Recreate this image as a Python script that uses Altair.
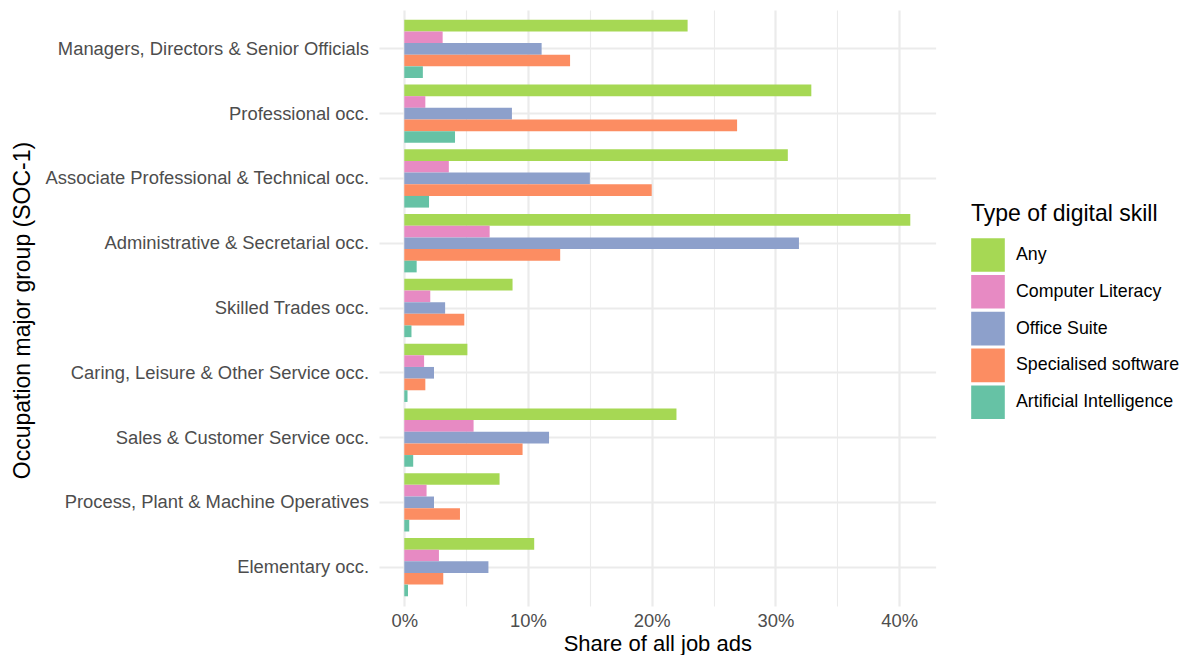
import altair as alt
import pandas as pd

occupations = [
    "Managers, Directors & Senior Officials",
    "Professional occ.",
    "Associate Professional & Technical occ.",
    "Administrative & Secretarial occ.",
    "Skilled Trades occ.",
    "Caring, Leisure & Other Service occ.",
    "Sales & Customer Service occ.",
    "Process, Plant & Machine Operatives",
    "Elementary occ.",
]
skills = ["Any", "Computer Literacy", "Office Suite", "Specialised software", "Artificial Intelligence"]
colors = ["#A6D854", "#E78AC3", "#8DA0CB", "#FC8D62", "#66C2A5"]

# share of all job ads, in percent
any_skill = [22.9, 32.9, 31.0, 40.9, 8.75, 5.1, 22.0, 7.7, 10.5]
computer_literacy = [3.1, 1.7, 3.6, 6.9, 2.1, 1.6, 5.6, 1.8, 2.8]
office_suite = [11.1, 8.7, 15.0, 31.9, 3.3, 2.4, 11.7, 2.4, 6.8]
specialised_software = [13.4, 26.9, 20.0, 12.6, 4.85, 1.7, 9.56, 4.5, 3.15]
artificial_intelligence = [1.5, 4.1, 2.0, 1.0, 0.58, 0.26, 0.72, 0.4, 0.3]

tick_values = [0, 5, 10, 15, 20, 25, 30, 35, 40]

series = [any_skill, computer_literacy, office_suite, specialised_software, artificial_intelligence]
rows = []
for name, vals in zip(skills, series):
    for occ, v in zip(occupations, vals):
        rows.append({"occupation": occ, "skill": name, "share": v})
df = pd.DataFrame(rows)

vmax = float(df["share"].max())
x_domain = [-0.05 * vmax, 1.05 * vmax]

FONT = "Liberation Sans"
W = 556.6
H = 596

chart = (
    alt.Chart(df)
    .mark_bar()
    .encode(
        x=alt.X(
            "share:Q",
            scale=alt.Scale(domain=x_domain, nice=False, zero=False),
            title="Share of all job ads",
            axis=alt.Axis(
                values=tick_values,
                labelExpr="datum.value % 10 === 0 ? datum.value + '%' : ''",
                grid=True,
                gridColor="#EBEBEB",
                gridWidth={"condition": {"test": "datum.value % 10 === 0", "value": 2.2}, "value": 1.1},
                ticks=False,
                domain=False,
                labelFont=FONT,
                labelFontSize=18.4,
                labelColor="#4D4D4D",
                labelPadding=6,
                labelFlush=False,
                titleFont=FONT,
                titleFontSize=22,
                titleFontWeight="normal",
                titleColor="#000000",
                titleY=44.5,
                titleBaseline="alphabetic",
            ),
        ),
        x2=alt.datum(0),
        y=alt.Y(
            "occupation:N",
            sort=occupations,
            scale=alt.Scale(paddingInner=0.1, paddingOuter=0.15),
            title="Occupation major group (SOC-1)",
            axis=alt.Axis(
                bandPosition=0.5,
                grid=True,
                gridColor="#EBEBEB",
                gridWidth=2.2,
                ticks=False,
                domain=False,
                labelFont=FONT,
                labelFontSize=18.4,
                labelColor="#4D4D4D",
                labelPadding=10.5,
                labelLimit=500,
                titleFont=FONT,
                titleFontSize=23,
                titleFontWeight="normal",
                titleColor="#000000",
                titleAngle=270,
                titleAlign="center",
                titleBaseline="alphabetic",
                titleX=-349,
                titleY=300,
            ),
        ),
        yOffset=alt.YOffset(
            "skill:N",
            sort=skills,
            scale=alt.Scale(paddingInner=0, paddingOuter=0),
        ),
        color=alt.Color(
            "skill:N",
            sort=skills,
            scale=alt.Scale(domain=skills, range=colors),
            title="Type of digital skill",
            legend=alt.Legend(
                orient="none",
                legendX=592,
                legendY=193,
                titleFont=FONT,
                titleFontSize=23,
                titleFontWeight="normal",
                titleColor="#000000",
                titlePadding=12,
                titleLimit=400,
                labelFont=FONT,
                labelFontSize=17.8,
                labelColor="#000000",
                labelOffset=11,
                labelLimit=400,
                symbolType="square",
                symbolSize=1130,
                symbolStrokeWidth=0,
                symbolOpacity=1,
                rowPadding=2.8,
            ),
        ),
    )
    .properties(
        width=W,
        height=H,
        autosize=alt.AutoSizeParams(type="none"),
        padding={"left": 371, "top": 2, "right": 245, "bottom": 49},
    )
    .configure(font=FONT, background="#FFFFFF")
    .configure_view(strokeWidth=0)
)

chart.save("out.html", embed_options={"renderer": "svg", "actions": False})
